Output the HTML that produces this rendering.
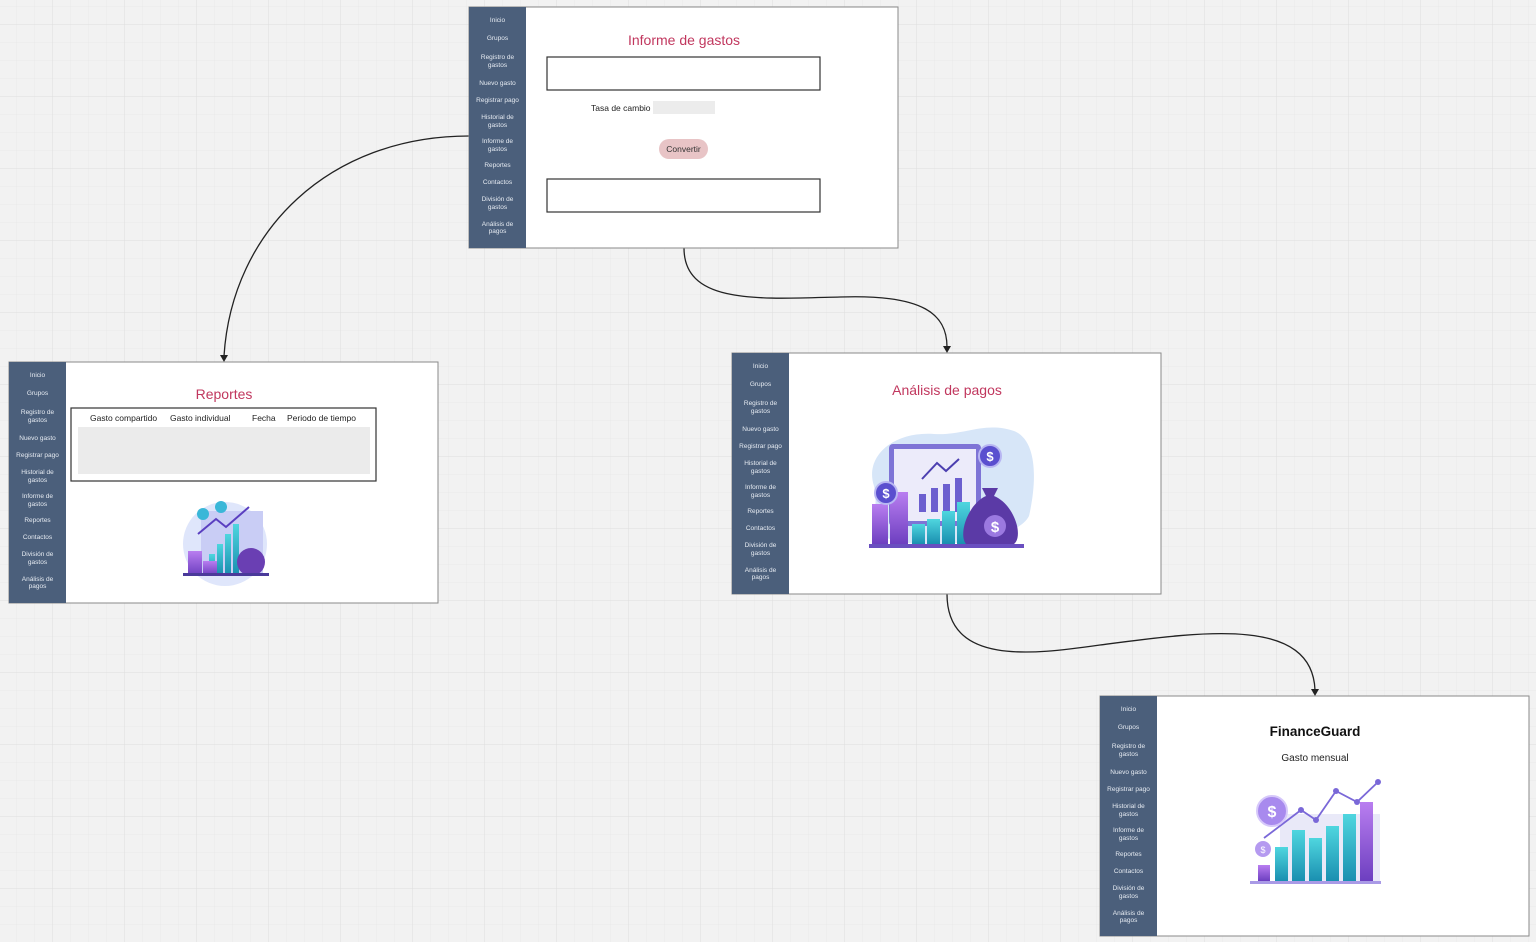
<!DOCTYPE html>
<html><head><meta charset="utf-8"><style>
html,body{margin:0;padding:0;background:#f2f2f2;}
svg{display:block;font-family:"Liberation Sans",sans-serif;}
.sb text{font-size:6.5px;fill:#e6ebf2;text-anchor:middle;}
</style></head><body>
<svg width="1536" height="942" viewBox="0 0 1536 942" xmlns="http://www.w3.org/2000/svg">
<defs>
<pattern id="minor" width="18" height="18" patternUnits="userSpaceOnUse" x="16" y="6"><path d="M0 0H18M0 0V18" stroke="#e9e9e9" stroke-width="1" fill="none"/></pattern>
<pattern id="major" width="72" height="72" patternUnits="userSpaceOnUse" x="52" y="24"><path d="M0 0H72M0 0V72" stroke="#dedede" stroke-width="1" fill="none"/></pattern>
<marker id="ar" markerWidth="8" markerHeight="8" refX="4" refY="6" orient="auto" markerUnits="userSpaceOnUse"><path d="M0 0 L4 7 L8 0 Z" fill="#222" transform="rotate(-90 4 4)"/></marker>
<linearGradient id="teal" x1="0" y1="0" x2="0" y2="1"><stop offset="0" stop-color="#4fd6df"/><stop offset="1" stop-color="#1a8fb0"/></linearGradient>
<linearGradient id="purp" x1="0" y1="0" x2="0" y2="1"><stop offset="0" stop-color="#b97ef0"/><stop offset="1" stop-color="#6d3fc0"/></linearGradient>
</defs>
<rect width="1536" height="942" fill="#f2f2f2"/>
<rect width="1536" height="942" fill="url(#minor)"/>
<rect width="1536" height="942" fill="url(#major)"/>

<!-- connectors -->
<g fill="none" stroke="#222" stroke-width="1.3">
<path d="M469 136 C330 136 232 230 224 356"/>
<path d="M684 248 C684 305 760 299 840 297 C925 294 947 315 947 347"/>
<path d="M947 594 C947 665 1030 655 1100 645 C1200 632 1312 615 1315 690"/>
</g>
<g fill="#222">
<path d="M220 355 L228 355 L224 362 Z"/>
<path d="M943 346 L951 346 L947 353 Z"/>
<path d="M1311 689 L1319 689 L1315 696 Z"/>
</g>

<!-- Frame 1 -->
<g transform="translate(469,7)">
<rect x="0" y="0" width="429" height="241" fill="#fff" stroke="#8a8a8a"/>
<rect x="0" y="0" width="57" height="241" fill="#4b5f7b"/>
<g class="sb"><text x="28.5" y="15">Inicio</text><text x="28.5" y="33">Grupos</text><text x="28.5" y="52">Registro de</text><text x="28.5" y="60">gastos</text><text x="28.5" y="78">Nuevo gasto</text><text x="28.5" y="95">Registrar pago</text><text x="28.5" y="112">Historial de</text><text x="28.5" y="120">gastos</text><text x="28.5" y="136">Informe de</text><text x="28.5" y="144">gastos</text><text x="28.5" y="160">Reportes</text><text x="28.5" y="177">Contactos</text><text x="28.5" y="194">División de</text><text x="28.5" y="202">gastos</text><text x="28.5" y="219">Análisis de</text><text x="28.5" y="226">pagos</text></g>
<text x="215" y="38" font-size="14" fill="#c1375e" text-anchor="middle">Informe de gastos</text>
<rect x="78" y="50" width="273" height="33" fill="#fff" stroke="#333" stroke-width="1.2"/>
<text x="122" y="104" font-size="8.5" fill="#222">Tasa de cambio</text>
<rect x="184" y="94" width="62" height="13" fill="#ececec"/>
<rect x="190" y="132" width="49" height="20" rx="10" fill="#e8c4c6"/>
<text x="214.5" y="145" font-size="8.5" fill="#333" text-anchor="middle">Convertir</text>
<rect x="78" y="172" width="273" height="33" fill="#fff" stroke="#333" stroke-width="1.2"/>
</g>

<!-- Frame 2 -->
<g transform="translate(9,362)">
<rect x="0" y="0" width="429" height="241" fill="#fff" stroke="#8a8a8a"/>
<rect x="0" y="0" width="57" height="241" fill="#4b5f7b"/>
<g class="sb"><text x="28.5" y="15">Inicio</text><text x="28.5" y="33">Grupos</text><text x="28.5" y="52">Registro de</text><text x="28.5" y="60">gastos</text><text x="28.5" y="78">Nuevo gasto</text><text x="28.5" y="95">Registrar pago</text><text x="28.5" y="112">Historial de</text><text x="28.5" y="120">gastos</text><text x="28.5" y="136">Informe de</text><text x="28.5" y="144">gastos</text><text x="28.5" y="160">Reportes</text><text x="28.5" y="177">Contactos</text><text x="28.5" y="194">División de</text><text x="28.5" y="202">gastos</text><text x="28.5" y="219">Análisis de</text><text x="28.5" y="226">pagos</text></g>
<text x="215" y="37" font-size="14" fill="#c1375e" text-anchor="middle">Reportes</text>
<rect x="62" y="46" width="305" height="73" fill="#fff" stroke="#333" stroke-width="1.2"/>
<text x="81" y="59" font-size="8.5" fill="#222">Gasto compartido</text>
<text x="161" y="59" font-size="8.5" fill="#222">Gasto individual</text>
<text x="243" y="59" font-size="8.5" fill="#222">Fecha</text>
<text x="278" y="59" font-size="8.5" fill="#222">Periodo de tiempo</text>
<rect x="69" y="65" width="292" height="47" fill="#ebebeb"/>
<g transform="translate(172,137)">
<circle cx="44" cy="45" r="42" fill="#dfe6fb"/>
<rect x="20" y="12" width="62" height="62" fill="#c9cdf5"/>
<rect x="28" y="55" width="6" height="20" fill="url(#teal)"/><rect x="36" y="45" width="6" height="30" fill="url(#teal)"/><rect x="44" y="35" width="6" height="40" fill="url(#teal)"/><rect x="52" y="25" width="6" height="50" fill="url(#teal)"/>
<path d="M17 35 L35 20 L45 28 L68 8" stroke="#5a3fc0" stroke-width="2" fill="none"/>
<circle cx="22" cy="15" r="6" fill="#3ab7d8"/><circle cx="40" cy="8" r="6" fill="#3ab7d8"/>
<rect x="7" y="52" width="14" height="24" fill="url(#purp)"/><rect x="22" y="62" width="14" height="14" fill="url(#purp)"/>
<ellipse cx="70" cy="63" rx="14" ry="14" fill="#6a3fb3"/>
<rect x="2" y="74" width="86" height="3" fill="#4a3a9a"/>
</g>
</g>

<!-- Frame 3 -->
<g transform="translate(732,353)">
<rect x="0" y="0" width="429" height="241" fill="#fff" stroke="#8a8a8a"/>
<rect x="0" y="0" width="57" height="241" fill="#4b5f7b"/>
<g class="sb"><text x="28.5" y="15">Inicio</text><text x="28.5" y="33">Grupos</text><text x="28.5" y="52">Registro de</text><text x="28.5" y="60">gastos</text><text x="28.5" y="78">Nuevo gasto</text><text x="28.5" y="95">Registrar pago</text><text x="28.5" y="112">Historial de</text><text x="28.5" y="120">gastos</text><text x="28.5" y="136">Informe de</text><text x="28.5" y="144">gastos</text><text x="28.5" y="160">Reportes</text><text x="28.5" y="177">Contactos</text><text x="28.5" y="194">División de</text><text x="28.5" y="202">gastos</text><text x="28.5" y="219">Análisis de</text><text x="28.5" y="226">pagos</text></g>
<text x="215" y="42" font-size="14" fill="#c1375e" text-anchor="middle">Análisis de pagos</text>
<g transform="translate(132,73)">
<path d="M10 60 C0 30 30 5 70 8 C100 10 120 -5 150 5 C175 15 172 60 165 90 C150 120 40 125 20 110 C5 95 15 80 10 60 Z" fill="#d7e6f8"/>
<rect x="25" y="18" width="92" height="82" rx="4" fill="#7e74d6"/>
<rect x="30" y="23" width="82" height="72" fill="#ecebfa"/>
<rect x="55" y="68" width="7" height="18" fill="#6c5fcf"/><rect x="67" y="62" width="7" height="24" fill="#6c5fcf"/><rect x="79" y="58" width="7" height="28" fill="#6c5fcf"/><rect x="91" y="52" width="7" height="34" fill="#6c5fcf"/>
<path d="M58 53 L73 37 L82 45 L95 33" stroke="#4c3fb0" stroke-width="2" fill="none"/>
<rect x="48" y="98" width="13" height="20" fill="url(#teal)"/><rect x="63" y="93" width="13" height="25" fill="url(#teal)"/><rect x="78" y="85" width="13" height="33" fill="url(#teal)"/><rect x="93" y="76" width="13" height="42" fill="url(#teal)"/>
<rect x="8" y="78" width="16" height="40" fill="url(#purp)"/><rect x="26" y="66" width="18" height="52" fill="url(#purp)"/>
<circle cx="22" cy="67" r="11" fill="#5a4fcf" stroke="#b8b6f2" stroke-width="2"/><text x="22" y="72" font-size="13" fill="#fff" text-anchor="middle" font-weight="bold">$</text>
<circle cx="126" cy="30" r="11" fill="#5a4fcf" stroke="#b8b6f2" stroke-width="2"/><text x="126" y="35" font-size="13" fill="#fff" text-anchor="middle" font-weight="bold">$</text>
<path d="M118 62 L134 62 L130 70 C150 78 160 110 150 118 L102 118 C94 108 104 78 122 70 Z" fill="#5b3aa6"/>
<circle cx="131" cy="100" r="11" fill="#9b79e0"/><text x="131" y="106" font-size="15" fill="#fff" text-anchor="middle" font-weight="bold">$</text>
<rect x="5" y="118" width="155" height="4" fill="#6a4fc0"/>
</g>
</g>

<!-- Frame 4 -->
<g transform="translate(1100,696)">
<rect x="0" y="0" width="429" height="240" fill="#fff" stroke="#8a8a8a"/>
<rect x="0" y="0" width="57" height="240" fill="#4b5f7b"/>
<g class="sb"><text x="28.5" y="15">Inicio</text><text x="28.5" y="33">Grupos</text><text x="28.5" y="52">Registro de</text><text x="28.5" y="60">gastos</text><text x="28.5" y="78">Nuevo gasto</text><text x="28.5" y="95">Registrar pago</text><text x="28.5" y="112">Historial de</text><text x="28.5" y="120">gastos</text><text x="28.5" y="136">Informe de</text><text x="28.5" y="144">gastos</text><text x="28.5" y="160">Reportes</text><text x="28.5" y="177">Contactos</text><text x="28.5" y="194">División de</text><text x="28.5" y="202">gastos</text><text x="28.5" y="219">Análisis de</text><text x="28.5" y="226">pagos</text></g>
<text x="215" y="40" font-size="13.5" fill="#111" text-anchor="middle" font-weight="bold">FinanceGuard</text>
<text x="215" y="65" font-size="10" fill="#222" text-anchor="middle">Gasto mensual</text>
<g transform="translate(150,94)">
<rect x="30" y="24" width="100" height="70" fill="#e9e9f8"/>
<rect x="8" y="75" width="12" height="16" fill="url(#purp)"/>
<rect x="25" y="57" width="13" height="34" fill="url(#teal)"/><rect x="42" y="40" width="13" height="51" fill="url(#teal)"/><rect x="59" y="48" width="13" height="43" fill="url(#teal)"/><rect x="76" y="36" width="13" height="55" fill="url(#teal)"/><rect x="93" y="24" width="13" height="67" fill="url(#teal)"/>
<rect x="110" y="12" width="13" height="79" fill="url(#purp)"/>
<path d="M14 48 L51 20 L66 30 L86 1 L107 12 L128 -8" stroke="#7a68d8" stroke-width="1.8" fill="none"/>
<circle cx="51" cy="20" r="3" fill="#7a68d8"/><circle cx="66" cy="30" r="3" fill="#7a68d8"/><circle cx="86" cy="1" r="3" fill="#7a68d8"/><circle cx="107" cy="12" r="3" fill="#7a68d8"/><circle cx="128" cy="-8" r="3" fill="#7a68d8"/>
<circle cx="22" cy="21" r="15" fill="#a88aee" stroke="#d6c8fa" stroke-width="2"/><text x="22" y="27" font-size="16" fill="#fff" text-anchor="middle" font-weight="bold">$</text>
<circle cx="13" cy="59" r="8" fill="#b59af0"/><text x="13" y="63" font-size="9" fill="#fff" text-anchor="middle">$</text>
<rect x="0" y="91" width="131" height="3" fill="#a99ae6"/>
</g>
</g>
</svg>
</body></html>
